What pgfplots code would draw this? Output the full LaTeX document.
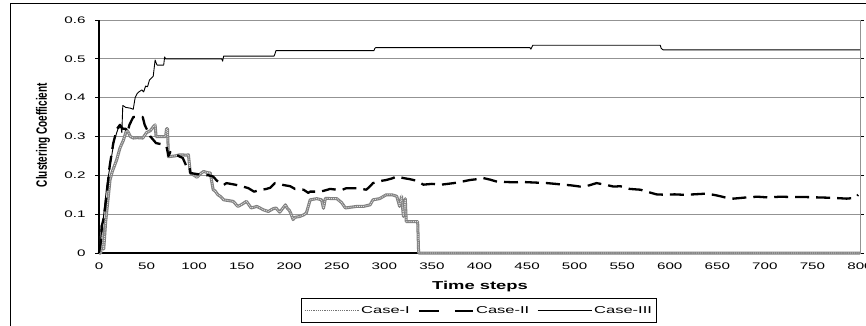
\documentclass[border=0pt]{standalone}
\usepackage{fontspec}
\setmainfont{Liberation Sans}
\usepackage{graphicx}
\usepackage{pgfplots}
\usepackage{pgfplotstable}
\pgfplotsset{compat=1.18}

\pgfplotstableread{
x y
0 0
2 0
3 0.07
4 0.02
5 0.01
7 0.08
8 0.103
10 0.15
11.6 0.188
14 0.21
18.6 0.24
22 0.27
25.6 0.29
29 0.317
31 0.31
33 0.3
36 0.296
40 0.297
46 0.296
50 0.31
54 0.315
57 0.325
59 0.33
60 0.3
64 0.3
70 0.3
71 0.32
72 0.32
73 0.248
80 0.25
85 0.253
92 0.252
94 0.253
96 0.206
100 0.2
103 0.195
107 0.205
110 0.21
114 0.207
117 0.206
120 0.163
122 0.16
125 0.15
128 0.145
131 0.137
136 0.135
141 0.133
146 0.12
150 0.125
155 0.133
160 0.116
166 0.12
173 0.111
178 0.107
183 0.114
186 0.116
190 0.105
196 0.124
198 0.115
200 0.11
202 0.1
204 0.086
206 0.092
211 0.094
215 0.098
218 0.103
220 0.12
222 0.137
229 0.14
234 0.137
236 0.115
238 0.141
245 0.14
250 0.14
255 0.13
259 0.116
265 0.118
271 0.12
278 0.12
285 0.124
288 0.137
295 0.14
302 0.15
308 0.15
313 0.146
316 0.12
318 0.146
320 0.094
322 0.14
323 0.081
330 0.081
335 0.081
336 0
800 0
}\caseI

\pgfplotstableread{
x y
0 0
2 0.03
3 0.07
5 0.09
8 0.15
11 0.22
15 0.283
19 0.32
22 0.33
25 0.32
28 0.32
30 0.31
32 0.33
36 0.35
46 0.35
48 0.33
54 0.3
60 0.283
66 0.28
71 0.274
73 0.25
75 0.26
80 0.255
85 0.248
88 0.245
92 0.223
95 0.225
96 0.206
109 0.201
115 0.2
120 0.197
124 0.186
128 0.18
131 0.175
134 0.18
143 0.176
150 0.172
157 0.167
163 0.158
169 0.162
176 0.165
180 0.168
185 0.18
190 0.178
194 0.175
201 0.172
206 0.165
215 0.163
220 0.155
222 0.158
230 0.158
236 0.16
243 0.165
250 0.163
256 0.163
260 0.167
271 0.167
281 0.163
285 0.172
288 0.18
295 0.185
302 0.188
308 0.192
313 0.197
320 0.193
327 0.19
334 0.186
341 0.176
350 0.178
360 0.176
373 0.18
382 0.184
390 0.188
397 0.19
404 0.193
411 0.189
418 0.184
427 0.183
436 0.182
445 0.183
453 0.182
462 0.181
471 0.18
480 0.178
488 0.176
497 0.174
506 0.171
515 0.174
523 0.18
532 0.176
541 0.171
548 0.172
558 0.165
569 0.163
576 0.158
586 0.151
595 0.15
605 0.151
614 0.15
625 0.151
639 0.153
650 0.148
660 0.142
667 0.14
680 0.143
692 0.145
704 0.143
716 0.145
730 0.144
744 0.144
758 0.143
772 0.142
786 0.14
795 0.142
798 0.15
}\caseII

\pgfplotstableread{
x y
0 0
2 0.04
5 0.1
8 0.17
12 0.23
16 0.29
20 0.32
23 0.325
24 0.31
25 0.38
28 0.375
33 0.373
36 0.37
38 0.40
40 0.41
42 0.415
45 0.42
47 0.415
49 0.43
51 0.428
53 0.445
57 0.455
59 0.497
60 0.49
61 0.484
68 0.484
69 0.505
70 0.5
129 0.5
130 0.494
131 0.507
184 0.507
185 0.513
186 0.521
289 0.521
290 0.527
291 0.529
453 0.529
454 0.525
456 0.535
590 0.535
591 0.527
593 0.523
800 0.523
}\caseIII

\begin{document}
\begin{tikzpicture}[x=1pt,y=1pt]
\useasboundingbox (0,0) rectangle (866,325);
\draw[black, line width=1pt] (10,-5) -- (10,322) -- (870,322);
\begin{axis}[
  at={(99pt,72pt)}, anchor=south west,
  width=761pt, height=233pt, scale only axis,
  xmin=0, xmax=800, ymin=0, ymax=0.6,
  xtick={0,50,...,800}, ytick={0,0.1,0.2,0.3,0.4,0.5,0.6},
  axis line style={draw=gray!85, line width=0.9pt},
  ymajorgrids, grid style={gray!85, line width=0.9pt},
  tick align=outside, major tick length=4pt,
  xtick style={draw=none}, ytick style={draw=black, line width=0.9pt},
  /pgf/number format/assume math mode=true,
  xticklabel={\scalebox{1.6}[1]{\pgfmathprintnumber{\tick}}},
  yticklabel={\scalebox{1.6}[1]{\pgfmathprintnumber[fixed,precision=1]{\tick}}},
  ticklabel style={font=\fontsize{9.5}{10}\selectfont},
  xticklabel style={yshift=-2pt},
  yticklabel style={xshift=-6pt},
  xlabel={\scalebox{1.6}[1]{\bfseries Time steps}},
  xlabel style={at={(axis description cs:0.5007,-0.146)}, anchor=center, font=\fontsize{11.5}{12}\selectfont},
  ylabel={\scalebox{1}[1.5]{\bfseries Clustering Coefficient}},
  ylabel style={at={(axis description cs:-0.0736,0.506)}, anchor=center, font=\fontsize{10}{11}\selectfont},
  clip=false,
  legend columns=3,
  legend image code/.code={\draw[#1] (0pt,0pt) -- (54pt,0pt);},
  legend style={at={(axis description cs:0.4993,-0.193)}, anchor=north,
    draw=black, line width=0.9pt, inner xsep=3pt, inner ysep=6pt,
    font=\fontsize{10}{11}\selectfont,
    /tikz/every even column/.append style={column sep=6pt},
    nodes={inner sep=2pt}},
]
\draw[black, line width=1.3pt] (rel axis cs:0,1) -- (rel axis cs:0,0) -- (rel axis cs:1,0);
\addplot[black!50, line width=3pt, line join=round,
  legend image post style={line width=1.2pt, black!55, densely dotted}] table {\caseI};
\addlegendentry{\scalebox{1.65}[1]{Case-I}}
\addplot[white!75!gray, line width=0.9pt, densely dotted, forget plot] table {\caseI};
\addplot[black, line width=2.3pt, dash pattern=on 14pt off 7pt, line join=round,
  legend image post style={dash pattern=on 20pt off 16pt}] table {\caseII};
\addlegendentry{\scalebox{1.65}[1]{Case-II}}
\addplot[black, line width=0.9pt, line join=round] table {\caseIII};
\addlegendentry{\scalebox{1.65}[1]{Case-III}}
\end{axis}
\end{tikzpicture}
\end{document}
